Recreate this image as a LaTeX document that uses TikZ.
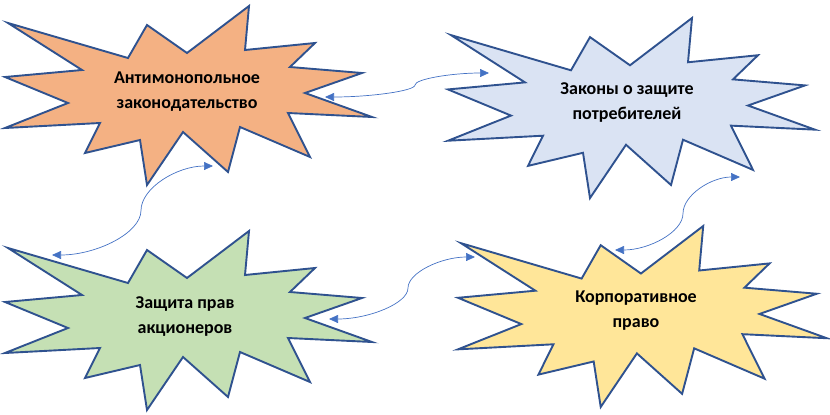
\documentclass[tikz,border=0pt]{standalone}
\usepackage{fontspec}
\setmainfont{Carlito}
\usetikzlibrary{arrows.meta}
\definecolor{outl}{HTML}{2F528F}
\definecolor{connc}{HTML}{4472C4}
\definecolor{fillA}{HTML}{F4B183}
\definecolor{fillB}{HTML}{DAE3F3}
\definecolor{fillC}{HTML}{C5E0B4}
\definecolor{fillD}{HTML}{FFE699}
\def\burstpath{(3,17) -- (123,52) -- (142,19) -- (182,47) -- (244,0) -- (240,44) -- (310,37) -- (285,61) -- (357,67) -- (300,87) -- (367,111) -- (283,107) -- (305,151) -- (235,121) -- (223,166) -- (178,126) -- (142,179) -- (135,134) -- (80,147) -- (95,117) -- (0,122) -- (63,97) -- (0,71) -- (77,64) -- cycle}
\tikzset{
  burst/.style={draw=outl, line width=1.9pt, line join=miter},
  lbl/.style={font=\bfseries\fontsize{18}{25}\selectfont, align=center, anchor=base, inner sep=0pt},
  conn/.style={draw=connc, line width=0.7pt, {Triangle[length=9pt,width=8pt]}-{Triangle[length=9pt,width=8pt]}}
}
\begin{document}
\begin{tikzpicture}[x=1pt,y=-1pt]
\useasboundingbox (0,0) rectangle (830,415);
% shapes
\draw[burst, fill=fillA, shift={(5,6)}] \burstpath;
\draw[burst, fill=fillB, shift={(448,18)}, yscale=1.006] \burstpath;
\draw[burst, fill=fillC, shift={(5,231)}] \burstpath;
\draw[burst, fill=fillD, shift={(458,226)}, xscale=1.005, yscale=1.011] \burstpath;
% labels (anchor = baseline of the last line)
\node[lbl] (t1) at (187,108) {Антимонопольное\\законодательство};
\node[lbl] (t2) at (627,119) {Законы о защите\\потребителей};
\node[lbl] (t3) at (185,333) {Защита прав\\акционеров};
\node[lbl] (t4) at (636,327) {Корпоративное\\право};
% connector ends
\coordinate (c1a) at (325,97);
\coordinate (c1b) at (489,73);
\coordinate (c2a) at (213,166);
\coordinate (c2b) at (52,255);
\coordinate (c3a) at (329,319);
\coordinate (c3b) at (475,257);
\coordinate (c4a) at (740,177);
\coordinate (c4b) at (615,250);
% connectors
\draw[conn] (c1a) .. controls (370,97) and (415,91) .. (415,85) .. controls (415,79) and (452,73) .. (c1b);
\draw[conn] (c2a) .. controls (177,166) and (141,188) .. (141,210.5) .. controls (141,233) and (96.5,255) .. (c2b);
\draw[conn] (c3a) .. controls (368.5,319) and (408,303.5) .. (408,288) .. controls (408,272.5) and (441.5,257) .. (c3b);
\draw[conn] (c4a) .. controls (711.5,177) and (683,195) .. (683,213.5) .. controls (683,232) and (649,250) .. (c4b);
\end{tikzpicture}
\end{document}
